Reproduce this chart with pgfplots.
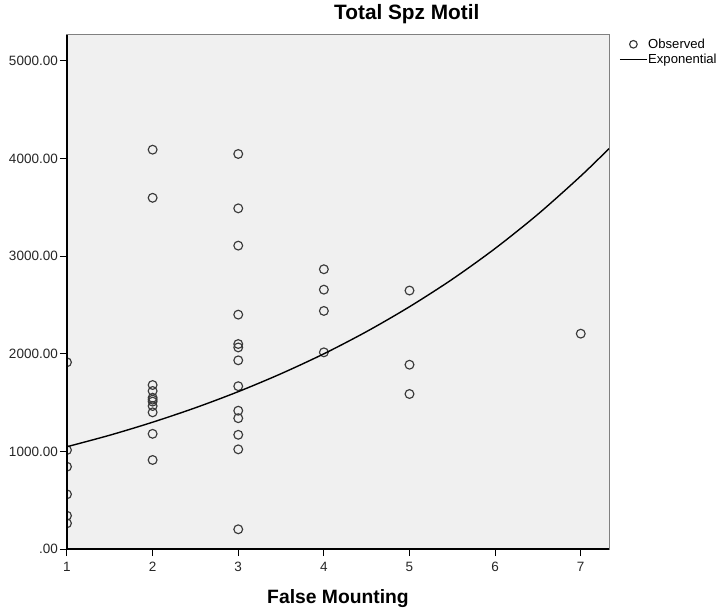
\documentclass[border=0pt]{standalone}
\usepackage{pgfplots}
\pgfplotsset{compat=1.18}
\usepackage{fontspec}
\setmainfont{Liberation Sans}
\definecolor{bgcol}{HTML}{F0F0F0}
\definecolor{framecol}{HTML}{808080}
\definecolor{markcol}{HTML}{3A3A3A}
\pgfplotsset{
  obslegend/.style={legend image code/.code={\draw[mark repeat=2,mark phase=2,##1, mark size=3.8pt] plot coordinates {(0pt,0pt)(13.5pt,0pt)(27pt,0pt)};}},
  linelegend/.style={legend image code/.code={\draw[##1] (0pt,0pt) -- (27pt,0pt);}},
}
\begin{document}
\begin{tikzpicture}
\useasboundingbox (-67pt,-61pt) rectangle (653pt,549pt);
\begin{axis}[
  at={(0pt,0pt)}, anchor=south west,
  scale only axis,
  width=542pt, height=514pt,
  xmin=1, xmax=7.33, ymin=0, ymax=5266,
  axis background/.style={fill=bgcol},
  axis line style={framecol, line width=1pt},
  xtick={1,2,3,4,5,6,7},
  xticklabels={1,2,3,4,5,6,7},
  ytick={0,1000,2000,3000,4000,5000},
  yticklabels={.00,1000.00,2000.00,3000.00,4000.00,5000.00},
  tick align=outside,
  xtick pos=bottom, ytick pos=left,
  major tick length=7pt,
  tick style={black, line width=1pt},
  ticklabel style={font=\fontsize{13.5}{15}\selectfont, text=black!85},
  xticklabel style={inner sep=0pt, anchor=north, yshift=-6pt},
  yticklabel style={inner sep=0pt, anchor=east, xshift=-2pt},
  /pgf/number format/assume math mode=true,
  xlabel={False Mounting},
  xlabel style={font=\bfseries\fontsize{19.3}{21}\selectfont, at={(axis description cs:0.5,0)}, anchor=base, yshift=-54pt},
  title={Total Spz Motil},
  title style={font=\bfseries\fontsize{20.8}{23}\selectfont, at={(axis description cs:0,1)}, anchor=base west, xshift=267pt, yshift=9pt, inner sep=0pt},
  clip marker paths=true,
  legend style={draw=none, fill=none, at={(axis description cs:1,1)}, anchor=north west, xshift=10pt, yshift=-3pt, inner sep=0pt, font=\fontsize{13.1}{15}\selectfont, row sep=3pt, nodes={inner sep=0.6pt}},
  legend cell align=left,
  extra description/.code={
    \draw[black, line width=1.3pt] (axis description cs:0,1) -- (axis description cs:0,0) -- (axis description cs:1,0);
  },
]
\addplot[only marks, mark=o, mark size=4.4pt, mark options={draw=markcol, line width=1.15pt}, obslegend]
coordinates {
(1,1913)(1,1014)(1,843)(1,560)(1,341)(1,263)
(2,4091)(2,3598)(2,1680)(2,1619)(2,1550)(2,1530)(2,1510)(2,1465)(2,1400)(2,1180)(2,912)
(3,4047)(3,3490)(3,3108)(3,2401)(3,2100)(3,2065)(3,1933)(3,1668)(3,1417)(3,1340)(3,1170)(3,1021)(3,202)
(4,2866)(4,2657)(4,2439)(4,2015)
(5,2648)(5,1888)(5,1588)
(7,2206)
};
\addlegendentry{Observed}
\addplot[black, line width=1.4pt, smooth, linelegend]
coordinates {
(1,1048)(1.5,1166)(2,1299)(2.5,1447)(3,1612)(3.5,1796)(4,2000)(4.5,2228)(5,2482)(5.5,2764)(6,3079)(6.5,3430)(7,3821)(7.33,4102)
};
\addlegendentry{Exponential}
\end{axis}
\end{tikzpicture}
\end{document}
